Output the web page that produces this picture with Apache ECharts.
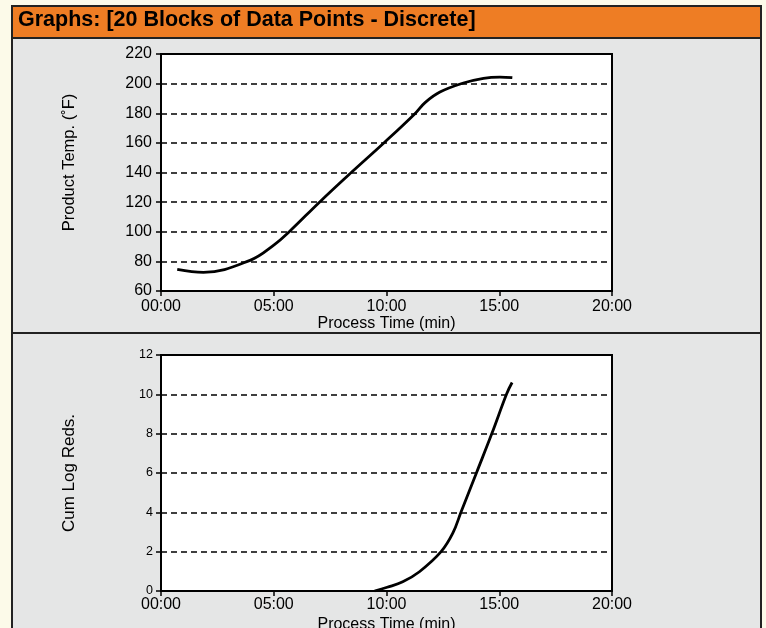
<!DOCTYPE html>
<html>
<head>
<meta charset="utf-8">
<script src="https://cdn.jsdelivr.net/npm/echarts@6/dist/echarts.min.js"></script>
<style>
html,body{margin:0;padding:0;background:#fcfae9;}
#c{width:766px;height:628px;}
</style>
</head>
<body>
<div id="c"></div>
<script>
// Data (time in minutes)
const titleText = "Graphs: [20 Blocks of Data Points - Discrete]";
const timeTicks = [0, 5, 10, 15, 20];
const tempTime = [0.72, 1.88, 3.95, 5.03, 5.72, 7.05, 8.46, 9.93, 11.26, 11.71, 12.37, 13.41, 14.3, 15.03, 15.58];
const tempVal  = [74.6, 72.6, 80.7, 91.3, 100.5, 120.3, 140.3, 160.6, 179.7, 187.2, 194.3, 200.4, 203.6, 204.4, 204.0];
const logTime  = [9.47, 10.03, 10.72, 11.46, 12.42, 12.94, 13.31, 14.0, 14.68, 15.33, 15.57];
const logVal   = [0, 0.19, 0.47, 0.98, 2.0, 2.94, 4.03, 6.04, 8.03, 10.03, 10.6];

const FONT = '"Liberation Sans", Arial, sans-serif';
const fmtTime = v => (v < 10 ? '0' + v : '' + v) + ':00';

const chart = echarts.init(document.getElementById('c'), null, {renderer: 'canvas'});

function xAxis(gridIndex, margin, nameGap) {
  return {
    type: 'value', gridIndex, min: 0, max: 20, interval: 5,
    name: 'Process Time (min)', nameLocation: 'middle', nameGap,
    nameTextStyle: {color: '#000', fontSize: 16, fontFamily: FONT},
    axisLine: {show: true, lineStyle: {color: '#000', width: 2}},
    axisTick: {show: true, inside: false, length: 5, lineStyle: {color: '#000', width: 1.5}},
    axisLabel: {color: '#000', fontSize: 16, fontFamily: FONT, margin, formatter: fmtTime},
    splitLine: {show: false}
  };
}
function yAxis(gridIndex, min, max, interval, name, fontSize, nameSize, margin, nameGap, shift) {
  return {
    type: 'value', gridIndex, min, max, interval,
    name, nameLocation: 'middle', nameGap, nameRotate: 90,
    nameTextStyle: {color: '#000', fontSize: nameSize, fontFamily: FONT, padding: [0, 0, 0, shift]},
    axisLine: {show: true, lineStyle: {color: '#000', width: 2}},
    axisTick: {show: true, inside: false, length: 5, lineStyle: {color: '#000', width: 1.5}},
    axisLabel: {color: '#000', fontSize, fontFamily: FONT, margin},
    splitLine: {show: true, lineStyle: {color: '#000', width: 1.5, type: [6, 4]}}
  };
}

const option = {
  animation: false,
  backgroundColor: '#fcfae9',
  graphic: [
    {type: 'rect', shape: {x: 12, y: 6, width: 749, height: 640}, style: {fill: '#e5e6e6', stroke: '#222', lineWidth: 2}, z: -10},
    {type: 'rect', shape: {x: 12, y: 6, width: 749, height: 32}, style: {fill: '#ee7d24', stroke: '#222', lineWidth: 2}, z: -9},
    {type: 'line', shape: {x1: 12, y1: 333, x2: 761, y2: 333}, style: {stroke: '#222', lineWidth: 2}, z: -9},
    {type: 'text', left: 18, top: 9, style: {text: titleText, fill: '#000', font: 'bold 21.5px ' + FONT}, z: 10}
  ],
  grid: [
    {left: 161, top: 54, width: 451, height: 237, show: true, backgroundColor: '#fff', borderColor: '#000', borderWidth: 2, outerBoundsMode: 'none', containLabel: false},
    {left: 161, top: 355, width: 451, height: 236, show: true, backgroundColor: '#fff', borderColor: '#000', borderWidth: 2, outerBoundsMode: 'none', containLabel: false}
  ],
  xAxis: [xAxis(0, 8, 25), xAxis(1, 6, 26)],
  yAxis: [
    yAxis(0, 60, 220, 20, 'Product Temp. (˚F)', 16, 16.5, 9, 83, 20),
    yAxis(1, 0, 12, 2, 'Cum Log Reds.', 12.5, 17, 8, 83, 0)
  ],
  series: [
    {type: 'line', xAxisIndex: 0, yAxisIndex: 0, data: tempTime.map((t, i) => [t, tempVal[i]]),
     smooth: 0.4, showSymbol: false, lineStyle: {color: '#000', width: 2.8}},
    {type: 'line', xAxisIndex: 1, yAxisIndex: 1, data: logTime.map((t, i) => [t, logVal[i]]),
     smooth: 0.4, showSymbol: false, lineStyle: {color: '#000', width: 2.8}}
  ]
};
chart.setOption(option);
</script>
</body>
</html>
